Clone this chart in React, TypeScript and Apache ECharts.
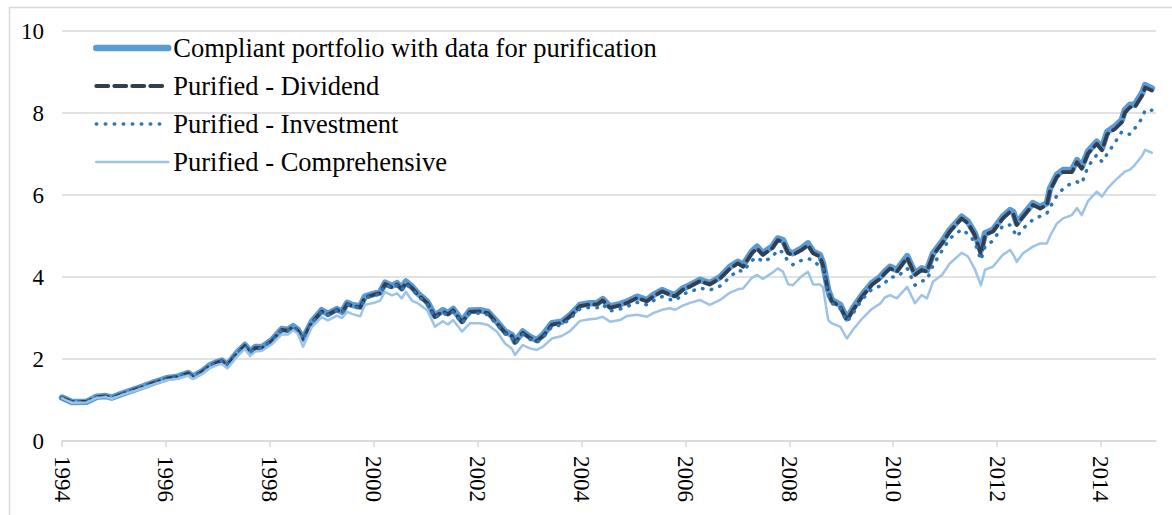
import React, { useEffect, useRef } from "react";
import * as echarts from "echarts";

const seriesNames = [
  "Compliant portfolio with data for purification",
  "Purified - Dividend",
  "Purified - Investment",
  "Purified - Comprehensive",
];

const yearTicks = [1994, 1996, 1998, 2000, 2002, 2004, 2006, 2008, 2010, 2012, 2014];

const dates = [
  1994.00, 1994.19, 1994.48, 1994.67, 1994.83, 1994.96, 1995.15, 1995.54, 1995.73, 1996.04,
  1996.23, 1996.43, 1996.52, 1996.69, 1996.85, 1997.00, 1997.08, 1997.18, 1997.37, 1997.52,
  1997.62, 1997.72, 1997.85, 1998.04, 1998.23, 1998.35, 1998.45, 1998.54, 1998.64, 1998.81,
  1999.00, 1999.12, 1999.29, 1999.39, 1999.49, 1999.58, 1999.74, 1999.83, 2000.03, 2000.12,
  2000.22, 2000.35, 2000.45, 2000.54, 2000.62, 2000.74, 2000.85, 2001.03, 2001.18, 2001.33,
  2001.43, 2001.53, 2001.70, 2001.85, 2002.05, 2002.20, 2002.37, 2002.53, 2002.66, 2002.72,
  2002.87, 2003.01, 2003.14, 2003.26, 2003.43, 2003.62, 2003.78, 2003.97, 2004.16, 2004.30,
  2004.41, 2004.55, 2004.74, 2004.88, 2005.07, 2005.26, 2005.38, 2005.55, 2005.70, 2005.80,
  2005.95, 2006.09, 2006.28, 2006.47, 2006.67, 2006.86, 2007.01, 2007.11, 2007.28, 2007.38,
  2007.49, 2007.67, 2007.78, 2007.88, 2007.98, 2008.07, 2008.24, 2008.36, 2008.46, 2008.59,
  2008.65, 2008.75, 2008.82, 2008.98, 2009.11, 2009.23, 2009.40, 2009.59, 2009.75, 2009.84,
  2009.94, 2010.07, 2010.27, 2010.42, 2010.55, 2010.65, 2010.77, 2010.94, 2011.09, 2011.32,
  2011.44, 2011.57, 2011.69, 2011.77, 2011.92, 2012.11, 2012.25, 2012.31, 2012.38, 2012.50,
  2012.69, 2012.83, 2012.96, 2013.02, 2013.15, 2013.27, 2013.44, 2013.54, 2013.63, 2013.75,
  2013.92, 2014.02, 2014.12, 2014.27, 2014.40, 2014.46, 2014.56, 2014.65, 2014.79, 2014.85,
  2014.98,
];

const compliant = [
  1.06, 0.95, 0.96, 1.08, 1.10, 1.06, 1.15, 1.32, 1.41, 1.54,
  1.57, 1.66, 1.57, 1.69, 1.85, 1.93, 1.96, 1.85, 2.15, 2.34,
  2.18, 2.29, 2.29, 2.46, 2.73, 2.71, 2.80, 2.71, 2.49, 2.91,
  3.19, 3.10, 3.22, 3.15, 3.37, 3.32, 3.28, 3.52, 3.60, 3.62,
  3.86, 3.78, 3.85, 3.73, 3.89, 3.76, 3.60, 3.40, 3.05, 3.19,
  3.12, 3.22, 2.93, 3.18, 3.19, 3.15, 2.91, 2.67, 2.59, 2.42,
  2.67, 2.54, 2.46, 2.59, 2.87, 2.91, 3.07, 3.32, 3.36, 3.36,
  3.46, 3.28, 3.34, 3.40, 3.52, 3.44, 3.56, 3.68, 3.60, 3.56,
  3.72, 3.80, 3.93, 3.85, 4.00, 4.25, 4.37, 4.29, 4.62, 4.74,
  4.58, 4.74, 4.94, 4.90, 4.62, 4.58, 4.70, 4.82, 4.62, 4.54,
  4.33, 3.68, 3.44, 3.32, 2.99, 3.24, 3.56, 3.85, 4.00, 4.13,
  4.25, 4.17, 4.51, 4.09, 4.21, 4.17, 4.58, 4.86, 5.15, 5.47,
  5.35, 5.07, 4.66, 5.07, 5.15, 5.47, 5.63, 5.59, 5.31, 5.51,
  5.80, 5.71, 5.80, 6.16, 6.49, 6.61, 6.61, 6.85, 6.69, 7.06,
  7.30, 7.14, 7.54, 7.67, 7.83, 8.07, 8.20, 8.20, 8.48, 8.68,
  8.60,
];

const dividend = [
  1.05, 0.95, 0.96, 1.07, 1.09, 1.05, 1.14, 1.31, 1.40, 1.53,
  1.56, 1.65, 1.56, 1.68, 1.84, 1.92, 1.95, 1.84, 2.14, 2.32,
  2.16, 2.27, 2.27, 2.44, 2.71, 2.69, 2.78, 2.69, 2.47, 2.89,
  3.16, 3.08, 3.20, 3.13, 3.34, 3.30, 3.26, 3.50, 3.58, 3.60,
  3.83, 3.75, 3.82, 3.70, 3.86, 3.73, 3.57, 3.37, 3.03, 3.16,
  3.09, 3.19, 2.90, 3.15, 3.16, 3.12, 2.88, 2.64, 2.56, 2.40,
  2.64, 2.51, 2.44, 2.56, 2.84, 2.88, 3.04, 3.29, 3.33, 3.33,
  3.43, 3.25, 3.31, 3.37, 3.49, 3.41, 3.53, 3.65, 3.57, 3.53,
  3.69, 3.77, 3.90, 3.82, 3.97, 4.21, 4.33, 4.25, 4.58, 4.70,
  4.54, 4.70, 4.90, 4.86, 4.58, 4.54, 4.66, 4.78, 4.58, 4.50,
  4.29, 3.64, 3.40, 3.28, 2.95, 3.20, 3.52, 3.81, 3.96, 4.09,
  4.21, 4.13, 4.47, 4.05, 4.17, 4.13, 4.54, 4.82, 5.11, 5.43,
  5.31, 5.03, 4.54, 5.03, 5.11, 5.43, 5.59, 5.55, 5.27, 5.47,
  5.76, 5.67, 5.76, 6.11, 6.44, 6.56, 6.56, 6.80, 6.64, 7.01,
  7.25, 7.09, 7.48, 7.61, 7.77, 8.01, 8.14, 8.14, 8.42, 8.62,
  8.55,
];

const investment = [
  1.05, 0.95, 0.96, 1.07, 1.09, 1.05, 1.14, 1.31, 1.40, 1.53,
  1.56, 1.65, 1.56, 1.68, 1.84, 1.92, 1.95, 1.84, 2.14, 2.32,
  2.16, 2.27, 2.27, 2.44, 2.71, 2.69, 2.78, 2.69, 2.47, 2.88,
  3.15, 3.07, 3.19, 3.12, 3.33, 3.28, 3.24, 3.48, 3.56, 3.57,
  3.81, 3.73, 3.80, 3.68, 3.83, 3.70, 3.54, 3.34, 3.00, 3.13,
  3.06, 3.15, 2.87, 3.11, 3.12, 3.08, 2.84, 2.61, 2.53, 2.37,
  2.60, 2.48, 2.40, 2.52, 2.79, 2.83, 2.98, 3.22, 3.26, 3.25,
  3.33, 3.17, 3.22, 3.28, 3.38, 3.32, 3.42, 3.52, 3.45, 3.42,
  3.58, 3.64, 3.73, 3.68, 3.78, 4.00, 4.17, 4.13, 4.40, 4.48,
  4.37, 4.48, 4.66, 4.60, 4.37, 4.30, 4.41, 4.45, 4.41, 4.25,
  4.21, 3.55, 3.36, 3.24, 2.91, 3.12, 3.45, 3.70, 3.78, 3.85,
  4.00, 4.00, 4.21, 3.80, 3.90, 3.93, 4.29, 4.64, 4.94, 5.16,
  5.05, 4.86, 4.41, 4.75, 4.88, 5.25, 5.27, 5.15, 4.98, 5.18,
  5.40, 5.48, 5.55, 5.70, 5.98, 6.15, 6.30, 6.32, 6.28, 6.69,
  6.98, 6.81, 7.00, 7.28, 7.54, 7.50, 7.48, 7.62, 7.87, 8.07,
  8.07,
];

const comprehensive = [
  1.04, 0.93, 0.94, 1.05, 1.07, 1.03, 1.12, 1.28, 1.37, 1.49,
  1.52, 1.60, 1.51, 1.63, 1.78, 1.86, 1.88, 1.77, 2.06, 2.25,
  2.07, 2.18, 2.20, 2.36, 2.60, 2.60, 2.70, 2.62, 2.30, 2.78,
  3.02, 2.94, 3.06, 3.00, 3.15, 3.10, 3.04, 3.32, 3.38, 3.42,
  3.64, 3.55, 3.60, 3.48, 3.64, 3.42, 3.36, 3.19, 2.79, 2.92,
  2.84, 2.95, 2.67, 2.87, 2.87, 2.83, 2.67, 2.38, 2.25, 2.10,
  2.34, 2.26, 2.22, 2.30, 2.50, 2.56, 2.68, 2.93, 2.97, 2.99,
  3.03, 2.91, 2.95, 3.05, 3.08, 3.03, 3.12, 3.20, 3.24, 3.20,
  3.30, 3.37, 3.44, 3.32, 3.44, 3.62, 3.70, 3.72, 3.98, 4.05,
  3.95, 4.10, 4.21, 4.13, 3.82, 3.80, 4.02, 4.13, 3.82, 3.82,
  3.75, 2.95, 2.87, 2.79, 2.50, 2.72, 2.98, 3.22, 3.35, 3.50,
  3.56, 3.48, 3.76, 3.36, 3.56, 3.48, 3.89, 4.05, 4.33, 4.59,
  4.50, 4.20, 3.80, 4.18, 4.25, 4.54, 4.66, 4.55, 4.37, 4.58,
  4.74, 4.82, 4.82, 5.00, 5.30, 5.43, 5.51, 5.68, 5.51, 5.85,
  6.08, 5.96, 6.15, 6.35, 6.50, 6.57, 6.62, 6.73, 6.95, 7.10,
  7.03,
];

const FONT = "'Liberation Serif', 'Times New Roman', serif";
const GRID_COLOR = "#d9d9d9";

const styles = [
  { color: "#5B9BD5", width: 6.5, type: "solid" as any },
  { color: "#333F50", width: 3.8, type: [12, 6] as any },
  { color: "#2E75B6", width: 3.5, type: [0.5, 8.5] as any },
  { color: "#9DC3E6", width: 2.5, type: "solid" as any },
];

const valueSets = [compliant, dividend, investment, comprehensive];

export default function App() {
  const ref = useRef<HTMLDivElement>(null);

  useEffect(() => {
    if (!ref.current) return;
    const chart = echarts.init(ref.current, undefined, { renderer: "svg" });

    const series = seriesNames.map((name, k) => ({
      name,
      type: "line",
      data: dates.map((d, i) => [d, valueSets[k][i]]),
      symbol: "none",
      showSymbol: false,
      smooth: false,
      lineStyle: {
        color: styles[k].color,
        width: styles[k].width,
        type: styles[k].type,
        cap: "round",
        join: "round",
      },
      itemStyle: { color: styles[k].color },
      z: 2 + k,
    }));

    chart.setOption({
      animation: false,
      backgroundColor: "#ffffff",
      grid: {
        left: 62,
        right: 16,
        top: 31,
        bottom: 74,
        containLabel: false,
        outerBoundsMode: "none",
      },
      legend: {
        orient: "vertical",
        left: 93,
        top: 33,
        padding: 0,
        itemWidth: 72,
        itemHeight: 14,
        itemGap: 8,
        textStyle: {
          fontFamily: FONT,
          fontSize: 26.5,
          lineHeight: 30,
          color: "#000",
        },
        data: seriesNames.map((name, k) => ({
          name,
          lineStyle: {
            color: styles[k].color,
            width: styles[k].width,
            type: styles[k].type,
            cap: "round",
          },
          itemStyle: { opacity: 0 },
        })),
      },
      xAxis: {
        type: "value",
        min: 1994,
        max: 2015.06,
        interval: 2,
        splitLine: { show: false },
        axisLine: { show: true, lineStyle: { color: GRID_COLOR, width: 1.5 } },
        axisTick: {
          show: true,
          length: 6,
          lineStyle: { color: GRID_COLOR, width: 1.5 },
          customValues: yearTicks,
        },
        axisLabel: {
          rotate: -90,
          margin: 15,
          fontFamily: FONT,
          fontSize: 23,
          color: "#000",
          customValues: yearTicks,
          formatter: (v: number) => String(Math.round(v)),
        },
      },
      yAxis: {
        type: "value",
        min: 0,
        max: 10,
        interval: 2,
        axisLine: { show: false },
        axisTick: { show: false },
        splitLine: { lineStyle: { color: GRID_COLOR, width: 1.5 } },
        axisLabel: {
          margin: 18,
          fontFamily: FONT,
          fontSize: 23,
          color: "#000",
        },
      },
      graphic: [
        {
          type: "rect",
          silent: true,
          z: -10,
          shape: { x: 9.5, y: 7.5, width: 1200, height: 600 },
          style: { fill: "none", stroke: GRID_COLOR, lineWidth: 1.5 },
        },
      ],
      series,
    });

    return () => {
      chart.dispose();
    };
  }, []);

  return (
    <div
      ref={ref}
      style={{ position: "absolute", left: 0, top: 0, width: 1172, height: 515 }}
    />
  );
}
